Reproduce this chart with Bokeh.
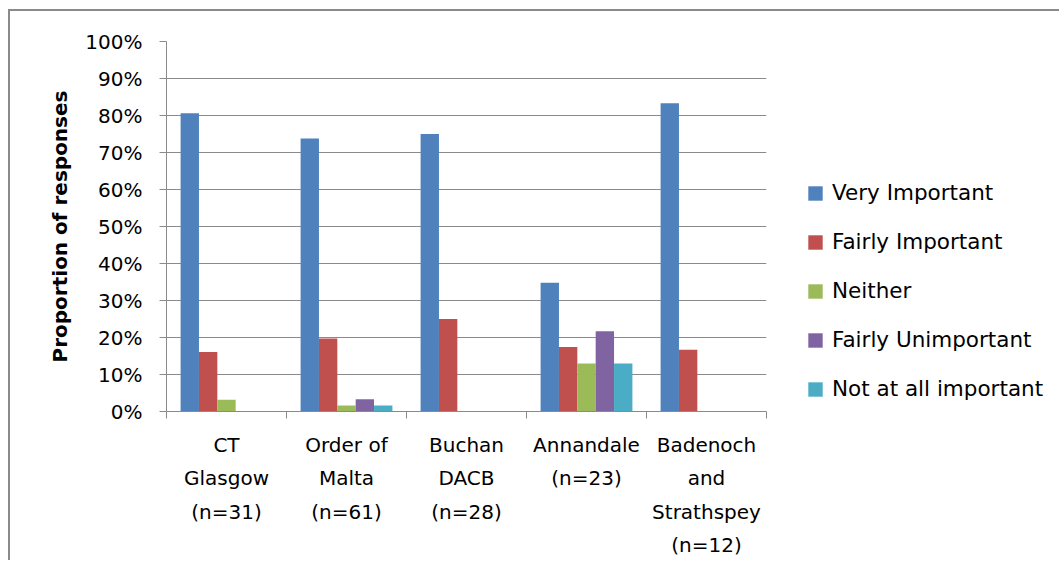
from bokeh.plotting import figure
from bokeh.models import Range1d, FixedTicker, NumeralTickFormatter, Legend, LegendItem, ColumnDataSource
from bokeh.embed import file_html
from bokeh.resources import INLINE
import numpy as np

categories = ["CT\nGlasgow\n(n=31)", "Order of\nMalta\n(n=61)", "Buchan\nDACB\n(n=28)",
              "Annandale\n(n=23)", "Badenoch\nand\nStrathspey\n(n=12)"]
series_names = ["Very Important", "Fairly Important", "Neither", "Fairly Unimportant", "Not at all important"]
very_important = [0.806, 0.738, 0.750, 0.348, 0.833]
fairly_important = [0.161, 0.197, 0.250, 0.174, 0.167]
neither = [0.032, 0.016, 0.0, 0.130, 0.0]
fairly_unimportant = [0.0, 0.033, 0.0, 0.217, 0.0]
not_at_all_important = [0.0, 0.016, 0.0, 0.130, 0.0]
series_values = [very_important, fairly_important, neither, fairly_unimportant, not_at_all_important]
colors = ["#4F81BD", "#C0504D", "#9BBB59", "#8064A2", "#4BACC6"]
y_ticks = [0.0, 0.1, 0.2, 0.3, 0.4, 0.5, 0.6, 0.7, 0.8, 0.9, 1.0]

FONT = "DejaVu Sans"
GREY = "#8a8a8a"
BAR_W = 0.153

p = figure(frame_width=600, frame_height=370, output_backend="svg", toolbar_location=None,
           x_range=Range1d(0, len(categories)), y_range=Range1d(0, 1),
           min_border_left=156, min_border_top=30, min_border_bottom=20, min_border_right=283,
           background_fill_color="white", border_fill_color="white")
p.styles = {"border-left": "2px solid #8a8a8a", "border-top": "2px solid #8a8a8a",
            "margin-left": "8px", "margin-top": "9px"}
p.outline_line_color = None
p.xgrid.visible = False
p.ygrid.grid_line_color = GREY
p.ygrid.grid_line_width = 1
p.ygrid.ticker = FixedTicker(ticks=y_ticks)

centers = np.arange(len(categories)) + 0.5
renderers = []
for k, (vals, col) in enumerate(zip(series_values, colors)):
    src = ColumnDataSource(dict(x=centers + (k - 2) * BAR_W, top=vals))
    r = p.vbar(x="x", top="top", width=BAR_W, bottom=0, source=src,
               fill_color=col, line_color=None)
    renderers.append(r)

# y axis
ya = p.yaxis[0]
ya.ticker = FixedTicker(ticks=y_ticks)
ya.formatter = NumeralTickFormatter(format="0%")
ya.axis_line_color = GREY
ya.major_tick_line_color = GREY
ya.major_tick_out = 7
ya.major_tick_in = 0
ya.minor_tick_line_color = None
ya.major_label_standoff = 17
ya.major_label_text_font = FONT
ya.major_label_text_font_size = "20px"
ya.major_label_text_color = "black"
ya.axis_label = "Proportion of responses"
ya.axis_label_text_font = FONT
ya.axis_label_text_font_style = "bold"
ya.axis_label_text_font_size = "20px"
ya.axis_label_text_color = "black"
ya.axis_label_standoff = 10

# x axis
xa = p.xaxis[0]
xa.ticker = FixedTicker(ticks=list(centers), minor_ticks=list(range(len(categories) + 1)))
xa.major_label_overrides = {float(c): lab for c, lab in zip(centers, categories)}
xa.axis_line_color = GREY
xa.major_tick_line_color = None
xa.minor_tick_line_color = GREY
xa.minor_tick_out = 7
xa.minor_tick_in = 0
xa.major_label_standoff = 14
xa.major_label_text_font = FONT
xa.major_label_text_font_size = "20px"
xa.major_label_text_color = "black"
xa.major_label_text_line_height = 1.4

legend = Legend(items=[LegendItem(label=n, renderers=[r]) for n, r in zip(series_names, renderers)],
                location=(40, 10), orientation="vertical",
                label_text_font=FONT, label_text_font_size="21.5px", label_text_color="black",
                glyph_width=18, glyph_height=18, label_standoff=8, spacing=24,
                padding=0, margin=0, border_line_color=None, background_fill_alpha=0)
p.add_layout(legend, "right")

open("out.html", "w").write(file_html(p, INLINE))
